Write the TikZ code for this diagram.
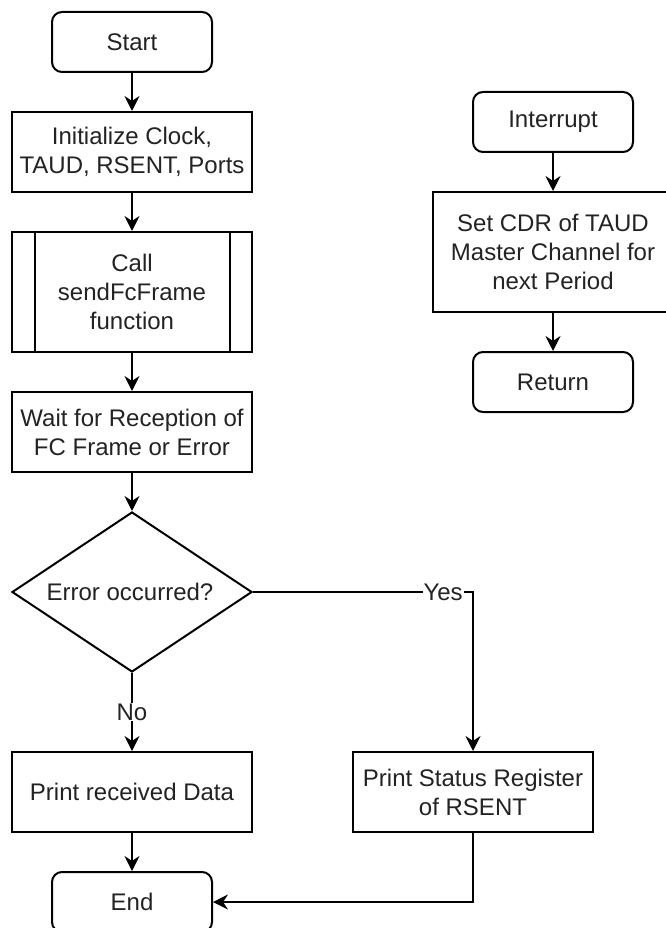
\documentclass[tikz,border=0pt]{standalone}
\usepackage{fontspec}
\setmainfont{Liberation Sans}
\usetikzlibrary{shapes.geometric,arrows.meta}
\definecolor{txt}{RGB}{35,35,35}
\begin{document}
\begin{tikzpicture}[x=1pt,y=-1pt,
  every node/.style={font=\fontsize{24}{29}\selectfont, text=txt, align=center},
  box/.style={draw, line width=2pt, fill=white, minimum width=240pt, minimum height=80pt, inner sep=0pt},
  term/.style={draw, line width=2pt, fill=white, rounded corners=10pt, minimum width=160pt, minimum height=60pt, inner sep=0pt},
  arr/.style={line width=2pt, -{Stealth[length=15pt,width=15pt,inset=5pt]}},
  lbl/.style={fill=white, inner sep=1pt}
]
\useasboundingbox (0,0) rectangle (665,928);
\fill[white] (0,0) rectangle (665,928);

\node[term] (start) at (132,42) {Start};
\node[box] (init) at (132,152) {Initialize Clock,\\TAUD, RSENT, Ports};
\node[box, minimum height=120pt] (call) at (132,292) {Call\\sendFcFrame\\function};
\draw[line width=2pt] ([xshift=24pt]call.north west) -- ([xshift=24pt]call.south west);
\draw[line width=2pt] ([xshift=-23pt]call.north east) -- ([xshift=-23pt]call.south east);
\node[box] (wait) at (132,432) {Wait for Reception of\\FC Frame or Error};
\node[diamond, draw, line width=2pt, fill=white, minimum width=240pt, minimum height=160pt, inner sep=0pt] (dec) at (132,592) {};
\node (dectxt) at (130,592) {Error occurred?};
\node[box] (prd) at (132,792) {Print received Data};
\node[box] (prs) at (473,792) {Print Status Register\\of RSENT};
\node[term] (end) at (132,902) {End};

\node[term] (intr) at (553,122) {Interrupt};
\node[box, minimum height=120pt] (cdr) at (553,252) {Set CDR of TAUD\\Master Channel for\\next Period};
\node[term] (ret) at (553,382) {Return};

\draw[arr] (start) -- (init);
\draw[arr] (init) -- (call);
\draw[arr] (call) -- (wait);
\draw[arr] (wait) -- (dec);
\draw[arr] (dec.south) -- node[lbl] {No} (prd.north);
\draw[arr] (dec.east) -| node[lbl, pos=0.432] {Yes} (prs.north);
\draw[arr] (prd) -- (end);
\draw[arr] (prs.south) |- (end.east);

\draw[arr] (intr) -- (cdr);
\draw[arr] (cdr) -- (ret);
\end{tikzpicture}
\end{document}
